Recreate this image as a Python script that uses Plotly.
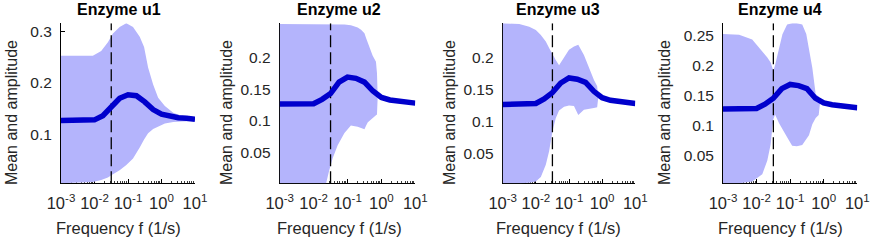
import plotly.graph_objects as go

# ---------------- data ----------------
titles = ["Enzyme u1", "Enzyme u2", "Enzyme u3", "Enzyme u4"]
x_label = "Frequency f (1/s)"
y_label = "Mean and amplitude"

# log10 of frequency (1/s) for the mean curves
mean_logf = [-3, -2, -1.75, -1.5, -1.25, -1, -0.75, -0.5, -0.25, 0, 0.25, 0.5, 0.75, 1]
mean_u1 = [0.127, 0.128, 0.136, 0.155, 0.170, 0.177, 0.175, 0.163, 0.148, 0.139, 0.135, 0.132, 0.131, 0.129]
mean_u2 = [0.1265, 0.127, 0.134, 0.143, 0.161, 0.169, 0.167, 0.161, 0.147, 0.137, 0.133, 0.131, 0.129, 0.128]
mean_u3 = [0.1265, 0.128, 0.135, 0.145, 0.160, 0.168, 0.166, 0.161, 0.147, 0.137, 0.133, 0.131, 0.129, 0.128]
mean_u4 = [0.127, 0.128, 0.135, 0.145, 0.161, 0.168, 0.166, 0.161, 0.145, 0.137, 0.134, 0.132, 0.130, 0.129]

# amplitude bands (upper / lower envelope)
band_logf_u1 = [-3, -2.05, -1.8, -1.6, -1.45, -1.25, -1.05, -0.85, -0.65, -0.52, -0.4, -0.25, -0.1, 0.1, 0.35, 0.6, 1.0]
upper_u1 = [0.253, 0.253, 0.262, 0.279, 0.296, 0.309, 0.316, 0.309, 0.290, 0.270, 0.230, 0.197, 0.171, 0.155, 0.142, 0.136, 0.132]
lower_u1 = [0.0045, 0.007, 0.011, 0.016, 0.022, 0.030, 0.040, 0.053, 0.074, 0.090, 0.102, 0.110, 0.115, 0.121, 0.124, 0.125, 0.126]

band_logf_u2 = [-3, -1.63, -1.54, -1.44, -1.29, -1.09, -0.9, -0.7, -0.6, -0.5, -0.45, -0.4, -0.31, -0.26, -0.16, -0.13, -0.11, 0.2, 0.5, 1.0]
upper_u2 = [0.2525, 0.2525, 0.2525, 0.2523, 0.252, 0.2515, 0.2505, 0.247, 0.2435, 0.238, 0.230, 0.222, 0.209, 0.203, 0.193, 0.175, 0.139, 0.134, 0.131, 0.128]
lower_u2 = [0.002, 0.002, 0.022, 0.041, 0.062, 0.081, 0.093, 0.091, 0.089, 0.087, 0.093, 0.098, 0.103, 0.105, 0.109, 0.110, 0.137, 0.132, 0.130, 0.127]

band_logf_u3 = [-3, -2.5, -2.2, -2.0, -1.85, -1.7, -1.6, -1.5, -1.4, -1.3, -1.15, -1.0, -0.85, -0.72, -0.55, -0.4, -0.25, -0.15, -0.12, 0.2, 0.5, 1.0]
upper_u3 = [0.2535, 0.2525, 0.248, 0.243, 0.235, 0.225, 0.215, 0.205, 0.196, 0.188, 0.199, 0.212, 0.217, 0.220, 0.204, 0.183, 0.165, 0.155, 0.137, 0.133, 0.131, 0.128]
lower_u3 = [0.003, 0.003, 0.004, 0.006, 0.013, 0.032, 0.053, 0.084, 0.105, 0.117, 0.123, 0.125, 0.124, 0.110, 0.118, 0.120, 0.121, 0.122, 0.136, 0.132, 0.130, 0.127]

band_logf_u4 = [-3, -2.52, -2.13, -1.83, -1.68, -1.58, -1.53, -1.5, -1.45, -1.33, -1.23, -1.09, -0.94, -0.8, -0.64, -0.52, -0.44, -0.34, -0.24, -0.15, -0.11, 0.2, 0.5, 1.0]
upper_u4 = [0.252, 0.251, 0.243, 0.224, 0.213, 0.2045, 0.196, 0.191, 0.200, 0.2295, 0.2517, 0.268, 0.270, 0.270, 0.268, 0.252, 0.2295, 0.196, 0.152, 0.148, 0.139, 0.134, 0.132, 0.129]
lower_u4 = [0.003, 0.003, 0.006, 0.018, 0.041, 0.068, 0.096, 0.110, 0.118, 0.103, 0.093, 0.080, 0.0657, 0.065, 0.067, 0.076, 0.083, 0.1017, 0.112, 0.117, 0.137, 0.132, 0.130, 0.128]

marker_logf = -1.5  # dashed reference frequency (log10)

x_tickvals = [1e-3, 1e-2, 1e-1, 1e0, 1e1]
x_ticktext = ["10<sup>-3</sup>", "10<sup>-2</sup>", "10<sup>-1</sup>", "10<sup>0</sup>", "10<sup>1</sup>"]
x_minor_vals = [m * d for d in x_tickvals[:-1] for m in range(2, 10)]

y_tickvals = [[0.1, 0.2, 0.3],
              [0.05, 0.1, 0.15, 0.2],
              [0.05, 0.1, 0.15, 0.2],
              [0.05, 0.1, 0.15, 0.2, 0.25]]
y_ticktext = [["0.1", "0.2", "0.3"],
              ["0.05", "0.1", "0.15", "0.2"],
              ["0.05", "0.1", "0.15", "0.2"],
              ["0.05", "0.1", "0.15", "0.2", "0.25"]]
y_ranges = [[0.0045, 0.316], [0.002, 0.2535], [0.003, 0.2535], [0.003, 0.270]]

means = [mean_u1, mean_u2, mean_u3, mean_u4]
bands = [(band_logf_u1, upper_u1, lower_u1), (band_logf_u2, upper_u2, lower_u2),
         (band_logf_u3, upper_u3, lower_u3), (band_logf_u4, upper_u4, lower_u4)]

# ---------------- layout geometry (pixels) ----------------
W, H = 872, 240
x_px = [(61, 195), (279.7, 415.3), (502.7, 635.3), (723, 857.3)]
y_top_px, y_bot_px = 23.3, 183.3
title_cx = [118.5, 339, 558, 780]
ylab_cx = [11, 226, 449, 664]

FONT = "Liberation Sans, Arial, Helvetica, sans-serif"
BAND = "rgb(180,180,252)"
LINE = "rgb(0,0,204)"
TXT = "#262626"

fig = go.Figure()
layout = dict(width=W, height=H, margin=dict(l=0, r=0, t=0, b=0),
              paper_bgcolor="white", plot_bgcolor="white", showlegend=False,
              font=dict(family=FONT, size=15, color=TXT))
annotations = []

for i in range(4):
    xa = "x" if i == 0 else f"x{i+1}"
    ya = "y" if i == 0 else f"y{i+1}"
    blf, up, lo = bands[i]
    bx = [10 ** v for v in blf]
    fig.add_trace(go.Scatter(x=bx + bx[::-1], y=up + lo[::-1], fill="toself",
                             fillcolor=BAND, line=dict(width=0), mode="lines",
                             hoverinfo="skip", xaxis=xa, yaxis=ya))
    mf = 10 ** marker_logf
    fig.add_trace(go.Scatter(x=[mf, mf], y=y_ranges[i], mode="lines",
                             line=dict(color="black", width=1.3, dash="12px,5px"),
                             hoverinfo="skip", xaxis=xa, yaxis=ya))
    fig.add_trace(go.Scatter(x=[10 ** v for v in mean_logf], y=means[i], mode="lines",
                             line=dict(color=LINE, width=5.5), xaxis=xa, yaxis=ya))

    xkey = "xaxis" if i == 0 else f"xaxis{i+1}"
    ykey = "yaxis" if i == 0 else f"yaxis{i+1}"
    layout[xkey] = dict(type="log", range=[-3, 1],
                        domain=[x_px[i][0] / W, x_px[i][1] / W],
                        anchor=ya, showline=True, linecolor="black", linewidth=1,
                        ticks="inside", ticklen=4, tickcolor="black", tickwidth=1,
                        tickvals=x_tickvals, ticktext=x_ticktext,
                        showgrid=False, zeroline=False, layer="below traces",
                        tickfont=dict(size=16.5, color=TXT), automargin=False,
                        ticklabelstandoff=5,
                        minor=dict(ticks="inside", ticklen=2, tickcolor="rgb(60,60,60)",
                                   tickwidth=0.8, tickvals=x_minor_vals, showgrid=False))
    layout[ykey] = dict(range=y_ranges[i],
                        domain=[1 - y_bot_px / H, 1 - y_top_px / H],
                        anchor=xa, showline=True, linecolor="black", linewidth=1,
                        ticks="inside", ticklen=4, tickcolor="black",
                        tickvals=y_tickvals[i], ticktext=y_ticktext[i],
                        showgrid=False, zeroline=False, layer="below traces",
                        tickfont=dict(size=15.5, color=TXT), automargin=False,
                        ticklabelstandoff=5)

    annotations.append(dict(text=f"<b>{titles[i]}</b>", x=title_cx[i] / W, y=1 - 9.5 / H,
                            xref="paper", yref="paper", showarrow=False,
                            xanchor="center", yanchor="middle",
                            font=dict(size=16, color="black", family=FONT)))
    annotations.append(dict(text=x_label, x=title_cx[i] / W, y=1 - 228 / H,
                            xref="paper", yref="paper", showarrow=False,
                            xanchor="center", yanchor="middle",
                            font=dict(size=16.5, color=TXT, family=FONT)))
    annotations.append(dict(text=y_label, x=ylab_cx[i] / W, y=1 - 113 / H,
                            xref="paper", yref="paper", showarrow=False, textangle=-90,
                            xanchor="center", yanchor="middle",
                            font=dict(size=16, color=TXT, family=FONT)))

layout["annotations"] = annotations
fig.update_layout(**layout)
fig.write_html("out.html", config={"displayModeBar": False},
               post_script="document.body.style.margin='0';document.body.style.overflow='hidden';")
